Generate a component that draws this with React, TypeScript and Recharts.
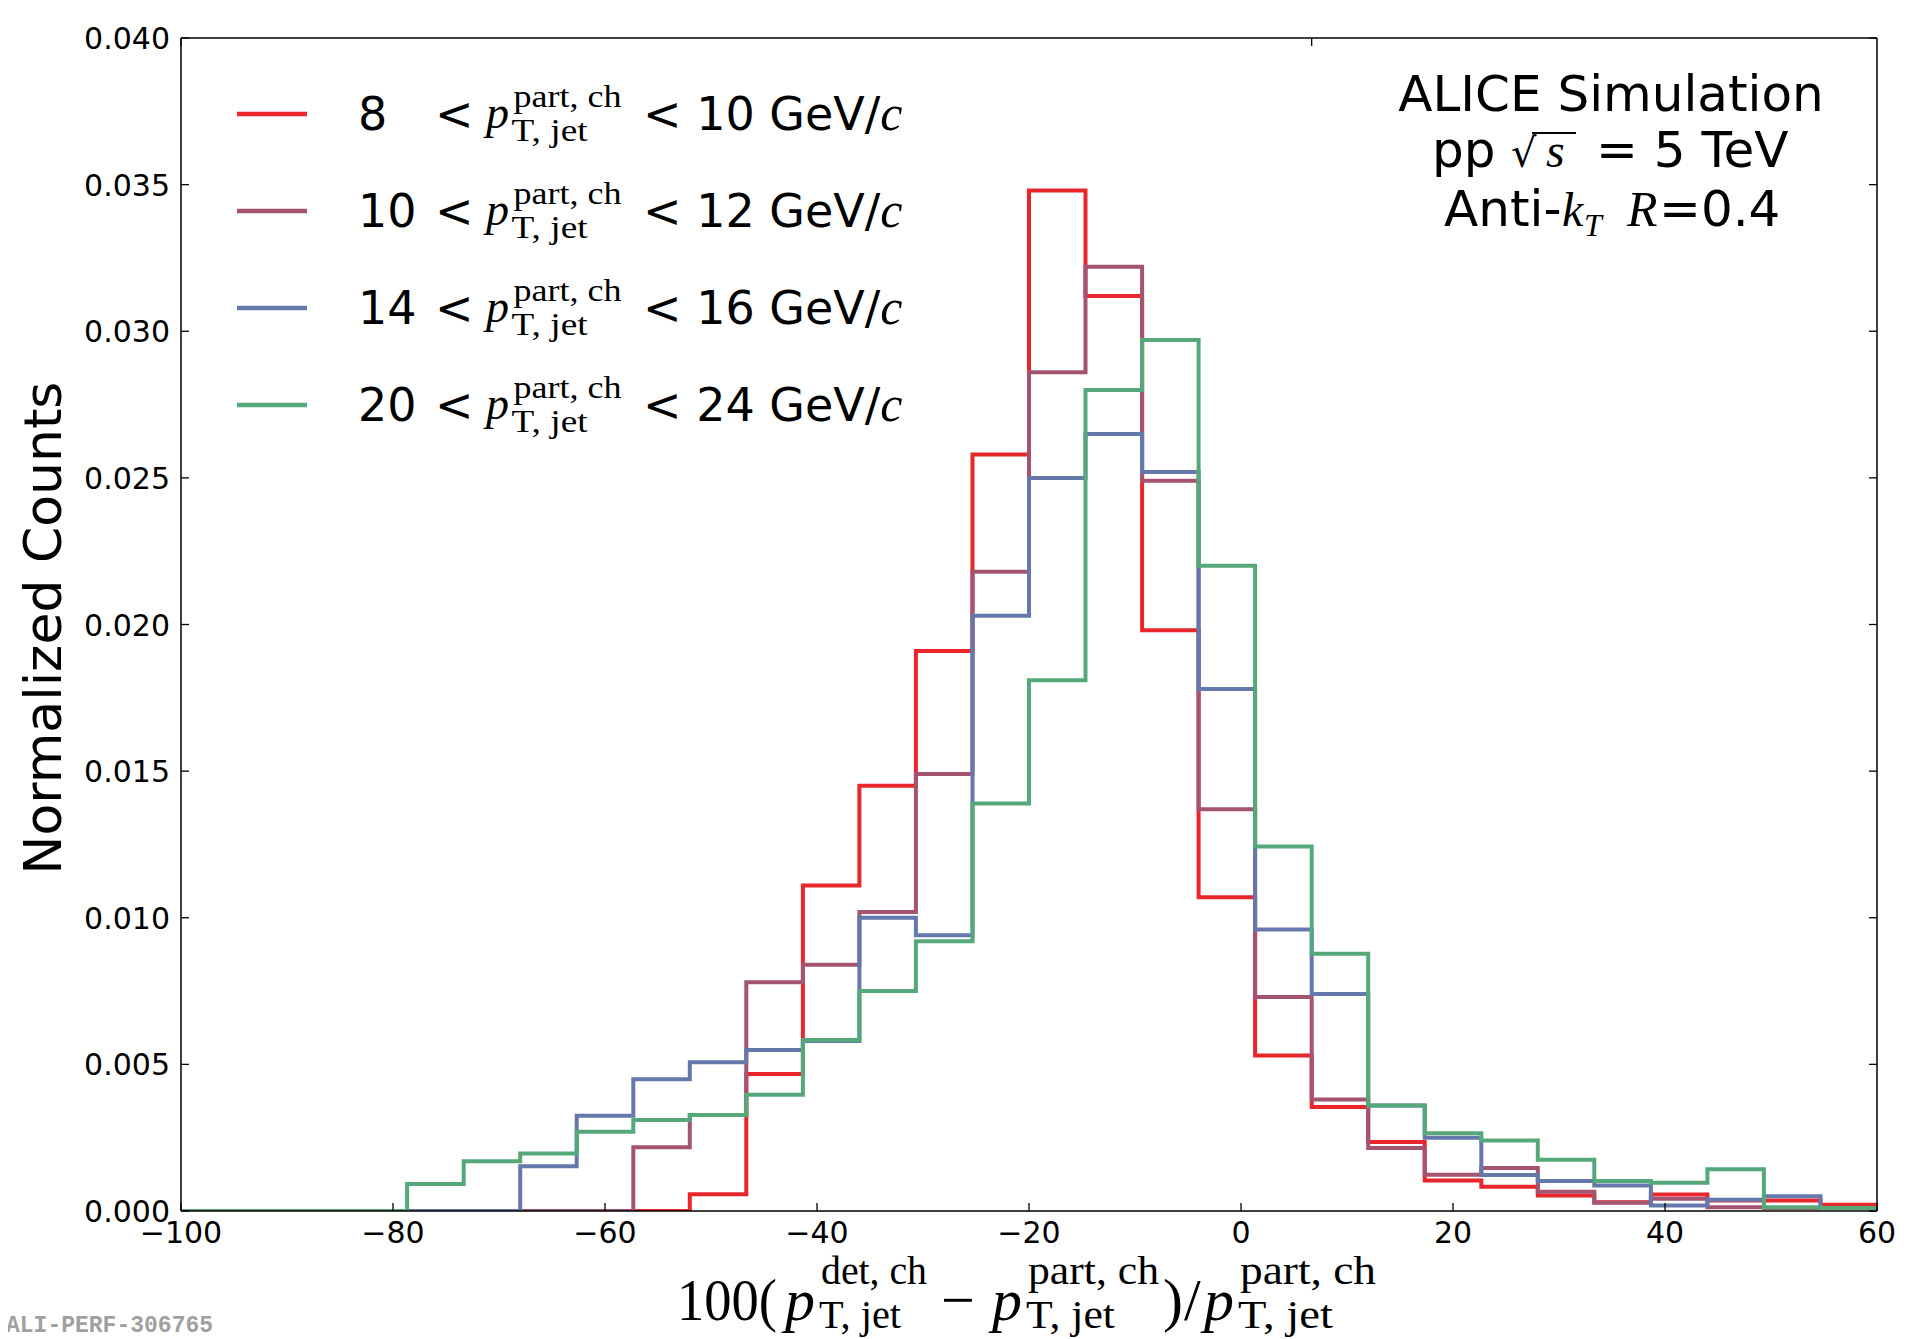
import React from 'react';
import { LineChart, Line, XAxis, YAxis } from 'recharts';

// histogram bin edges (30 bins from -100 to 60)
const binEdges = [
  -100, -94.67, -89.33, -84, -78.67, -73.33, -68, -62.67, -57.33, -52,
  -46.67, -41.33, -36, -30.67, -25.33, -20, -14.67, -9.33, -4, 1.33,
  6.67, 12, 17.33, 22.67, 28, 33.33, 38.67, 44, 49.33, 54.67, 60,
];

const pt8to10 = [
  0, 0, 0, 0, 0, 0, 0, 0, 0, 0.00057,
  0.00467, 0.0111, 0.0145, 0.0191, 0.0258, 0.0348, 0.0312, 0.0198, 0.0107, 0.0053,
  0.00355, 0.00235, 0.00104, 0.00083, 0.00053, 0.0003, 0.00056, 0.00036, 0.00036, 0.00021,
];
const pt10to12 = [
  0, 0, 0, 0, 0, 0, 0, 0, 0.00217, 0.00327,
  0.0078, 0.0084, 0.0102, 0.0149, 0.0218, 0.0286, 0.0322, 0.0249, 0.0137, 0.0073,
  0.0038, 0.00215, 0.00124, 0.00147, 0.00066, 0.00028, 0.00042, 0.00013, 0.0001, 0.0001,
];
const pt14to16 = [
  0, 0, 0, 0, 0, 0, 0.00153, 0.00325, 0.00449, 0.00507,
  0.00549, 0.0058, 0.01, 0.0094, 0.0203, 0.025, 0.0265, 0.0252, 0.0178, 0.0096,
  0.0074, 0.0036, 0.0025, 0.00123, 0.00102, 0.00087, 0.00019, 0.00038, 0.0005, 0.0001,
];
const pt20to24 = [
  0, 0, 0, 0, 0.00092, 0.0017, 0.00196, 0.0027, 0.0031, 0.00327,
  0.00396, 0.00583, 0.0075, 0.0092, 0.0139, 0.0181, 0.028, 0.0297, 0.022, 0.01243,
  0.00877, 0.0036, 0.00265, 0.0024, 0.00175, 0.00102, 0.00096, 0.00142, 0.00013, 0.0001,
];

const seriesValues = [pt8to10, pt10to12, pt14to16, pt20to24];
const seriesLow = ['8', '10', '14', '20'];
const seriesHigh = ['10', '12', '16', '24'];
const seriesColors = ['#e8262c', '#a45470', '#6478ac', '#55a87a'];

const xTicks = [-100, -80, -60, -40, -20, 0, 20, 40, 60];
const yTicks = [0, 0.005, 0.01, 0.015, 0.02, 0.025, 0.03, 0.035, 0.04];

// step data: each edge carries the value of the bin to its right, last edge repeats the last bin
const chartData = binEdges.map((edge, i) => {
  const row: Record<string, number> = { x: edge };
  seriesValues.forEach((vals, s) => {
    row['s' + s] = i < vals.length ? vals[i] : vals[vals.length - 1];
  });
  return row;
});

const SANS = 'DejaVu Sans';
const MATH = 'Liberation Serif';
const TICK_LEN = 8;

function fmtX(v: number): string {
  return v < 0 ? '\u2212' + Math.abs(v) : String(v);
}

function BottomTick(props: any) {
  const { x, y, payload } = props;
  return (
    <g>
      <line x1={x} x2={x} y1={y} y2={y - TICK_LEN} stroke='#000' strokeWidth={1.3}/>
      <text x={x} y={y + 32} textAnchor='middle' fontSize={30} fontFamily={SANS} fill='#000'>
        {fmtX(payload.value)}
      </text>
    </g>
  );
}

function TopTick(props: any) {
  const { x, y } = props;
  return <line x1={x} x2={x} y1={y} y2={y + TICK_LEN} stroke='#000' strokeWidth={1.3}/>;
}

function LeftTick(props: any) {
  const { x, y, payload } = props;
  return (
    <g>
      <line x1={x} x2={x + TICK_LEN} y1={y} y2={y} stroke='#000' strokeWidth={1.3}/>
      <text x={x - 11} y={y + 11} textAnchor='end' fontSize={30} fontFamily={SANS} fill='#000'>
        {Number(payload.value).toFixed(3)}
      </text>
    </g>
  );
}

function RightTick(props: any) {
  const { x, y } = props;
  return <line x1={x} x2={x - TICK_LEN} y1={y} y2={y} stroke='#000' strokeWidth={1.3}/>;
}

// p_{T,jet}^{sup} rendered with stacked scripts
function PT(props: { x: number; y: number; sup: string; supLen: number; subLen: number; main: number; script: number; supDy: number; subDy: number }) {
  const { x, y, sup, supLen, subLen, main, script, supDy, subDy } = props;
  const sx = x + main * 0.6;
  return (
    <g fontFamily={MATH} fill='#000'>
      <text x={x} y={y} fontSize={main} fontStyle='italic'>p</text>
      <text x={sx} y={y + supDy} fontSize={script} textLength={supLen} lengthAdjust='spacingAndGlyphs'>{sup}</text>
      <text x={sx - 2} y={y + subDy} fontSize={script} textLength={subLen} lengthAdjust='spacingAndGlyphs'>T, jet</text>
    </g>
  );
}

function Annotations() {
  return (
    <svg width={1904} height={1331} style={{ position: 'absolute', left: 0, top: 0, overflow: 'visible' }}>
      {/* y axis title */}
      <text transform='translate(53,620) rotate(-90)' textAnchor='middle' fontSize={52} fontFamily={SANS} fill='#000'>
        Normalized Counts
      </text>

      {/* legend */}
      {seriesLow.map((lo, i) => {
        const ly = 106 + 97 * i;
        return (
          <g key={lo}>
            <line x1={229} x2={299} y1={ly} y2={ly} stroke={seriesColors[i]} strokeWidth={4.5}/>
            <text x={350} y={ly + 16} fontSize={46} fontFamily={SANS} fill='#000'>{lo}</text>
            <text x={427} y={ly + 16} fontSize={46} fontFamily={SANS} fill='#000'>{'<'}</text>
            <PT x={478} y={ly + 14} sup='part, ch' supLen={108} subLen={76} main={46} script={32} supDy={-21} subDy={13}/>
            <text x={635} y={ly + 16} fontSize={46} fontFamily={SANS} fill='#000'>
              {'< ' + seriesHigh[i] + ' GeV/'}
              <tspan fontFamily={MATH} fontStyle='italic' fontSize={50}>c</tspan>
            </text>
          </g>
        );
      })}

      {/* ALICE label */}
      <text x={1603} y={103} textAnchor='middle' fontSize={50} fontFamily={SANS} fill='#000'>ALICE Simulation</text>
      <g fill='#000'>
        <text x={1424} y={159} fontSize={50} fontFamily={SANS}>pp</text>
        <text x={1503} y={159} fontSize={40} fontFamily='DejaVu Serif'>{'\u221A'}</text>
        <line x1={1524} x2={1568} y1={125} y2={125} stroke='#000' strokeWidth={2}/>
        <text x={1538} y={159} fontSize={48} fontFamily={MATH} fontStyle='italic'>s</text>
        <text x={1588} y={159} fontSize={50} fontFamily={SANS}>= 5 TeV</text>
      </g>
      <g fill='#000'>
        <text x={1436} y={218} fontSize={50} fontFamily={SANS}>Anti-</text>
        <text x={1554} y={218} fontSize={48} fontFamily={MATH} fontStyle='italic'>k</text>
        <text x={1576} y={228} fontSize={32} fontFamily={MATH} fontStyle='italic'>T</text>
        <text x={1619} y={218} fontSize={50} fontFamily={MATH} fontStyle='italic'>R</text>
        <text x={1651} y={218} fontSize={50} fontFamily={SANS}>=0.4</text>
      </g>

      {/* x axis title */}
      <g fill='#000' fontFamily={MATH}>
        <text x={669} y={1312} fontSize={60} textLength={100} lengthAdjust='spacingAndGlyphs'>100(</text>
        <PT x={777} y={1312} sup='det, ch' supLen={106} subLen={82} main={60} script={40} supDy={-36} subDy={8}/>
        <text x={933} y={1312} fontSize={60}>{'\u2212'}</text>
        <PT x={984} y={1312} sup='part, ch' supLen={131} subLen={89} main={60} script={40} supDy={-36} subDy={8}/>
        <text x={1155} y={1312} fontSize={60}>)</text>
        <text x={1176} y={1312} fontSize={60}>/</text>
        <PT x={1196} y={1312} sup='part, ch' supLen={136} subLen={95} main={60} script={40} supDy={-36} subDy={8}/>
      </g>

      {/* figure id */}
      <text x={-2} y={1324} fontSize={23} fontFamily='Liberation Mono' fontWeight='bold' fill='#a0a0a0'>
        ALI-PERF-306765
      </text>
    </svg>
  );
}

export default function App() {
  return (
    <div style={{ position: 'relative', width: 1904, height: 1331 }}>
      <LineChart
        width={1904}
        height={1320}
        data={chartData}
        margin={{ top: 29, right: 34, left: 73, bottom: 57 }}
      >
        <XAxis
          xAxisId='b'
          dataKey='x'
          type='number'
          domain={[-100, 60]}
          ticks={xTicks}
          interval={0}
          height={60}
          tickSize={0}
          tickMargin={0}
          tickLine={false}
          tick={BottomTick}
          axisLine={{ stroke: '#000', strokeWidth: 1.5 }}
          allowDataOverflow
        />
        <XAxis
          xAxisId='t'
          orientation='top'
          type='number'
          domain={[-100, 60]}
          ticks={xTicks}
          interval={0}
          height={1}
          tickSize={0}
          tickMargin={0}
          tickLine={false}
          tick={TopTick}
          axisLine={{ stroke: '#000', strokeWidth: 1.5 }}
          allowDataOverflow
        />
        <YAxis
          yAxisId='l'
          type='number'
          domain={[0, 0.04]}
          ticks={yTicks}
          interval={0}
          width={100}
          tickSize={0}
          tickMargin={0}
          tickLine={false}
          tick={LeftTick}
          axisLine={{ stroke: '#000', strokeWidth: 1.5 }}
          allowDataOverflow
        />
        <YAxis
          yAxisId='r'
          orientation='right'
          type='number'
          domain={[0, 0.04]}
          ticks={yTicks}
          interval={0}
          width={1}
          tickSize={0}
          tickMargin={0}
          tickLine={false}
          tick={RightTick}
          axisLine={{ stroke: '#000', strokeWidth: 1.5 }}
          allowDataOverflow
        />
        {seriesValues.map((_, s) => (
          <Line
            key={s}
            xAxisId='b'
            yAxisId='l'
            type='stepAfter'
            dataKey={'s' + s}
            stroke={seriesColors[s]}
            strokeWidth={4}
            dot={false}
            activeDot={false}
            isAnimationActive={false}
          />
        ))}
      </LineChart>
      <Annotations/>
    </div>
  );
}
